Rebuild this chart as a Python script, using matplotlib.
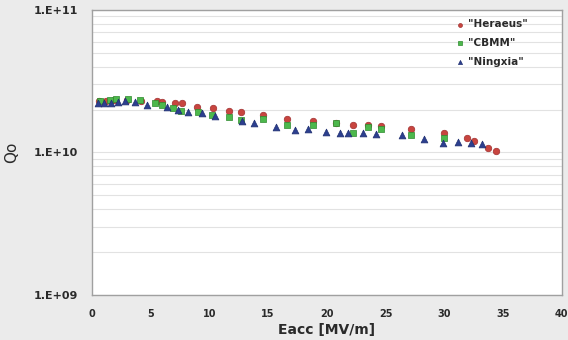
import matplotlib
matplotlib.use("Agg")
import matplotlib.pyplot as plt
from matplotlib.ticker import LogLocator, NullFormatter, FixedLocator

plt.rcParams['font.family'] = ['DejaVu Sans']

# Heraeus (red circles)
her_e = [0.6, 1.2, 1.9, 3.0, 4.2, 5.5, 6.0, 7.1, 7.7, 8.9, 10.3, 11.7, 12.7,
         14.6, 16.6, 18.8, 20.8, 22.2, 23.5, 24.6, 27.2, 30.0, 31.9, 32.5, 33.7, 34.4]
her_q = [2.28e10, 2.30e10, 2.32e10, 2.32e10, 2.30e10, 2.28e10, 2.26e10, 2.21e10, 2.21e10,
         2.10e10, 2.04e10, 1.94e10, 1.91e10, 1.82e10, 1.73e10, 1.66e10, 1.60e10, 1.57e10,
         1.55e10, 1.53e10, 1.47e10, 1.36e10, 1.27e10, 1.21e10, 1.08e10, 1.03e10]

# CBMM (green squares)
cbm_e = [0.7, 1.5, 2.0, 3.1, 4.1, 5.4, 6.0, 6.9, 7.6, 9.0, 10.2, 11.7, 12.7,
         14.6, 16.6, 18.8, 20.8, 22.2, 23.5, 24.6, 27.2, 30.0]
cbm_q = [2.28e10, 2.35e10, 2.39e10, 2.39e10, 2.35e10, 2.24e10, 2.14e10, 2.04e10, 1.94e10,
         1.91e10, 1.82e10, 1.76e10, 1.68e10, 1.73e10, 1.57e10, 1.55e10, 1.60e10, 1.38e10,
         1.52e10, 1.47e10, 1.32e10, 1.27e10]

# Ningxia (blue triangles)
nin_e = [0.5, 1.0, 1.6, 2.2, 2.8, 3.7, 4.7, 6.4, 7.3, 8.2, 9.4, 10.5, 12.8, 13.8,
         15.7, 17.3, 18.4, 19.9, 21.1, 21.8, 23.1, 24.2, 26.4, 28.3, 29.9, 31.2, 32.3, 33.2]
nin_q = [2.21e10, 2.24e10, 2.24e10, 2.26e10, 2.28e10, 2.26e10, 2.17e10, 2.07e10, 2.00e10,
         1.91e10, 1.88e10, 1.79e10, 1.65e10, 1.60e10, 1.50e10, 1.43e10, 1.47e10, 1.40e10,
         1.36e10, 1.36e10, 1.36e10, 1.34e10, 1.32e10, 1.25e10, 1.17e10, 1.19e10, 1.16e10, 1.14e10]

labels = ['"Heraeus"', '"CBMM"', '"Ningxia"']
xticks = [0, 5, 10, 15, 20, 25, 30, 35, 40]
yticks = [1e9, 1e10, 1e11]
ytick_labels = ['1.E+09', '1.E+10', '1.E+11']

fig = plt.figure(figsize=(5.68, 3.4), dpi=100, facecolor='#ebebeb')
ax = fig.add_axes([0.162, 0.132, 0.827, 0.839])
ax.set_facecolor('white')
ax.set_yscale('log')
ax.set_xlim(0, 40)
ax.set_ylim(1e9, 1e11)

ax.grid(True, which='both', axis='y', color='#e2e2e2', linewidth=0.8)
ax.set_axisbelow(True)
ax.tick_params(axis='both', which='both', length=0, colors='#2a2a2a')
ax.tick_params(axis='x', pad=10)
ax.tick_params(axis='y', pad=10)

ax.yaxis.set_major_locator(FixedLocator(yticks))
ax.set_yticks(yticks)
ax.set_yticklabels(ytick_labels, fontsize=8, fontweight='bold', color='#2a2a2a')
ax.yaxis.set_minor_locator(LogLocator(base=10, subs=range(2, 10)))
ax.yaxis.set_minor_formatter(NullFormatter())
ax.set_xticks(xticks)
ax.set_xticklabels([str(t) for t in xticks], fontsize=7, fontweight='bold', color='#2a2a2a')

for s in ax.spines.values():
    s.set_color('#a0a0a0')
    s.set_linewidth(1.0)

ax.scatter(her_e, her_q, marker='o', s=22, c='#c8453f', edgecolors='#a03030', linewidths=0.5, label=labels[0], zorder=3)
ax.scatter(cbm_e, cbm_q, marker='s', s=22, c='#4cb84c', edgecolors='#2e8a2e', linewidths=0.5, label=labels[1], zorder=4)
ax.scatter(nin_e, nin_q, marker='^', s=24, c='#2c3f8f', edgecolors='#1f2f70', linewidths=0.5, label=labels[2], zorder=5)

leg = ax.legend(loc='upper left', bbox_to_anchor=(0.755, 1.0), frameon=False,
                fontsize=7.5, handletextpad=0.3, labelspacing=0.85, markerscale=0.6,
                handlelength=0.8)
for t in leg.get_texts():
    t.set_fontweight('bold')
    t.set_color('#2a2a2a')

ax.set_xlabel('Eacc [MV/m]', fontsize=10, fontweight='bold', color='#2a2a2a', labelpad=3)
ax.set_ylabel('Qo', fontsize=11, color='#2a2a2a')
ax.yaxis.set_label_coords(-0.155, 0.5)

fig.savefig('out.png', dpi=100, facecolor=fig.get_facecolor())
